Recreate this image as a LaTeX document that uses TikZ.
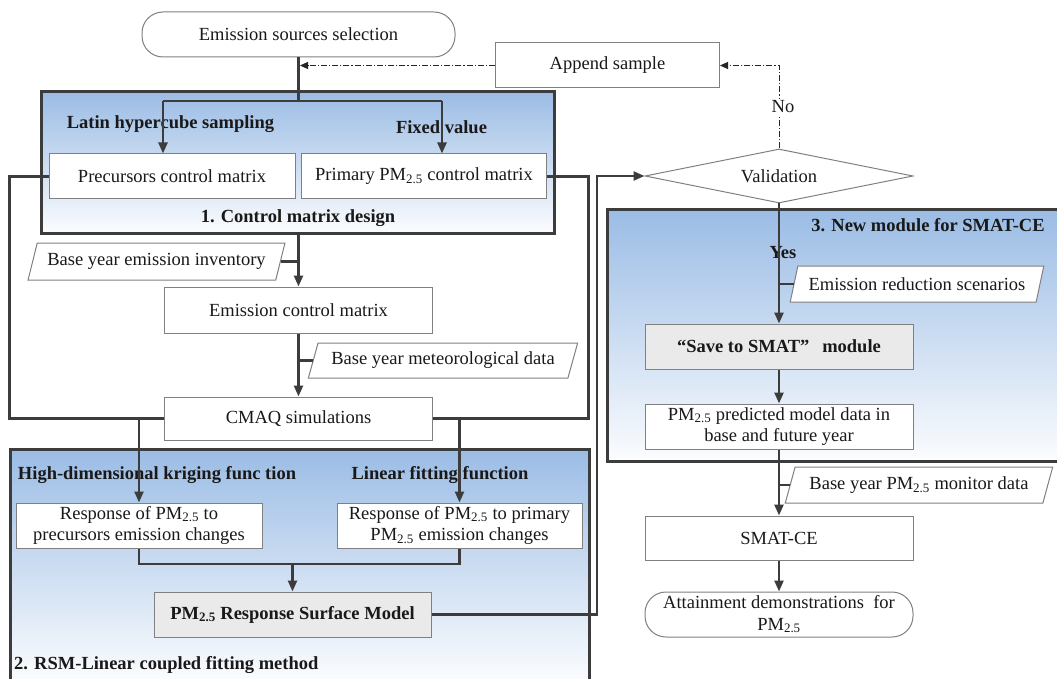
\documentclass[tikz,border=0pt]{standalone}
\usepackage{fontspec}
\setmainfont{Liberation Serif}
\usetikzlibrary{arrows.meta,shapes.geometric,calc}
\definecolor{modblue}{RGB}{155,188,229}
\definecolor{linec}{RGB}{60,60,60}
\definecolor{boxb}{RGB}{128,128,128}
\definecolor{grayfill}{RGB}{234,234,234}
\definecolor{txt}{RGB}{25,25,25}
\newcommand{\PMtf}{PM\textsubscript{2.5}}
\begin{document}
\begin{tikzpicture}[x=1pt,y=-1pt,
  every node/.style={font=\fontsize{18.5}{21.5}\selectfont, text=txt},
  nbox/.style={draw=boxb, line width=1pt, fill=white, inner sep=1pt, align=center, minimum height=45},
  gbox/.style={nbox, fill=grayfill, font=\fontsize{18.5}{21.5}\selectfont\bfseries},
  term/.style={nbox, rounded corners=21pt},
  para/.style={trapezium, trapezium left angle=65, trapezium right angle=115, trapezium stretches=true,
     draw=boxb, line width=1pt, fill=white, inner sep=1pt, minimum height=36},
  dmd/.style={diamond, aspect=5, draw=boxb, line width=1pt, fill=white, inner sep=0pt},
  lbl/.style={inner sep=1pt, font=\fontsize{18.5}{21.5}\selectfont\bfseries},
  modb/.style={draw=linec, line width=3pt},
  conn/.style={draw=linec, line width=2.4pt},
  arr/.style={conn, -{Triangle[length=11pt,width=9pt]}},
  dd/.style={draw=black!85, line width=0.9pt, dash pattern=on 6pt off 2pt on 1.2pt off 2pt, -{Triangle[length=8pt,width=7pt]}}
]
\clip (0,0) rectangle (1057,679);
\fill[white] (0,0) rectangle (1057,679);

% modules
\path[top color=modblue, bottom color=white!96!modblue] (41,92) rectangle (554,233);
\draw[modb] (41,92) rectangle (554,233);
\path[top color=modblue, bottom color=white] (10,449) rectangle (589,690);
\draw[modb] (10,449) rectangle (589,700);
\path[top color=modblue, bottom color=white!96!modblue] (607,210) rectangle (1062,461);
\draw[modb] (607,210) rectangle (1062,461);

% nodes, left column
\node[term, minimum width=313] (start) at (298.5,34.5) {Emission sources selection};
\node[nbox, minimum width=224] (append) at (607.5,65.5) {Append sample};
\node[nbox, minimum width=246] (prec) at (172,176.5) {Precursors control matrix};
\node[nbox, minimum width=245] (prim) at (424,176.5) {Primary \PMtf{} control matrix};
\node[para, minimum width=257, minimum height=37] (inv) at (156.5,261.5) {Base year emission inventory};
\node[nbox, minimum width=268, minimum height=46] (ecm) at (298.5,310) {Emission control matrix};
\node[para, minimum width=270, minimum height=35] (met) at (443,360.5) {Base year meteorological data};
\node[nbox, minimum width=268, minimum height=43] (cmaq) at (298.5,418.5) {CMAQ simulations};
\node[nbox, minimum width=246] (resp1) at (139,525.5) {Response of \PMtf{} to\\precursors emission changes};
\node[nbox, minimum width=245] (resp2) at (459.5,525.5) {Response of \PMtf{} to primary\\\PMtf{} emission changes};
\node[gbox, minimum width=277] (rsm) at (292.5,614.5) {\PMtf{} Response Surface Model};

% nodes, right column
\node[dmd, minimum width=268, minimum height=54] (val) at (779,176) {Validation};
\node[para, minimum width=254] (ers) at (917,284) {Emission reduction scenarios};
\node[gbox, minimum width=268] (save) at (779,346.5) {“Save to SMAT”\hspace{0.7em}module};
\node[nbox, minimum width=268] (pred) at (779,426.5) {\PMtf{} predicted model data in\\base and future year};
\node[para, minimum width=268] (mon) at (919,485) {Base year \PMtf{} monitor data};
\node[nbox, minimum width=268, minimum height=44] (smat) at (779,538) {SMAT-CE};
\node[term, minimum width=268] (att) at (779,614.5) {Attainment demonstrations\ \ for\\\PMtf};

% labels
\node[lbl] (lhs) at (170.5,124) {Latin hypercube sampling};
\node[lbl] (fv) at (441.5,127) {Fixed value};
\node[lbl] (m1l) at (298,218) {1. Control matrix design};
\node[lbl] (krig) at (157,475) {High-dimensional kriging func tion};
\node[lbl] (lff) at (440,475) {Linear fitting function};
\node[lbl, anchor=west] (m2l) at (13,665) {2. RSM-Linear coupled fitting method};
\node[lbl] (m3l) at (928,225) {3. New module for SMAT-CE};
\node[lbl] (yes) at (783,253) {Yes};

% coordinates
\coordinate (j) at (298.5,101);
\coordinate (jl) at (163,101);
\coordinate (jr) at (442,101);
\coordinate (m1b) at (298.5,233);
\coordinate (mg) at (292.5,564);
\coordinate (vx) at (597,0);

% connectors
\draw[conn] (start.south) -- (j);
\draw[conn] (jl) -- (jr);
\draw[arr] (jl) -- (jl |- prec.north);
\draw[arr] (jr) -- (jr |- prim.north);
\draw[dd] (append.west) -- ($(append.west -| start.south)+(1.5,0)$);
\draw[dd] (val.north) -- (val.north |- append.east) -- (append.east);
\node[fill=white, inner sep=2pt] (no) at (783,107) {No};

\draw[conn] (prec.west) -- ++(-39,0) |- (cmaq.west);
\draw[conn] (prim.east) -- ++(41.5,0) |- (cmaq.east);
\draw[arr] (resp1.north |- cmaq.west) -- (resp1.north);
\draw[arr] (resp2.north |- cmaq.east) -- (resp2.north);

\draw[arr] (m1b) -- (ecm.north);
\draw[conn] (inv.right side) -- (inv.right side -| ecm.north);
\draw[arr] (ecm.south) -- (cmaq.north);
\draw[conn] (met.left side) -- (met.left side -| ecm.south);

\draw[conn] (resp1.south) |- (mg) -| (resp2.south);
\draw[arr] (mg) -- (rsm.north);
\draw[arr] (rsm.east) -| (vx |- val.west) -- (val.west);

\draw[arr] (val.south) -- (save.north);
\draw[conn] (ers.left side) -- (ers.left side -| val.south);
\draw[arr] (save.south) -- (pred.north);
\draw[arr] (pred.south) -- (smat.north);
\draw[conn] (mon.left side) -- (mon.left side -| pred.south);
\draw[arr] (smat.south) -- (att.north);
\end{tikzpicture}
\end{document}
